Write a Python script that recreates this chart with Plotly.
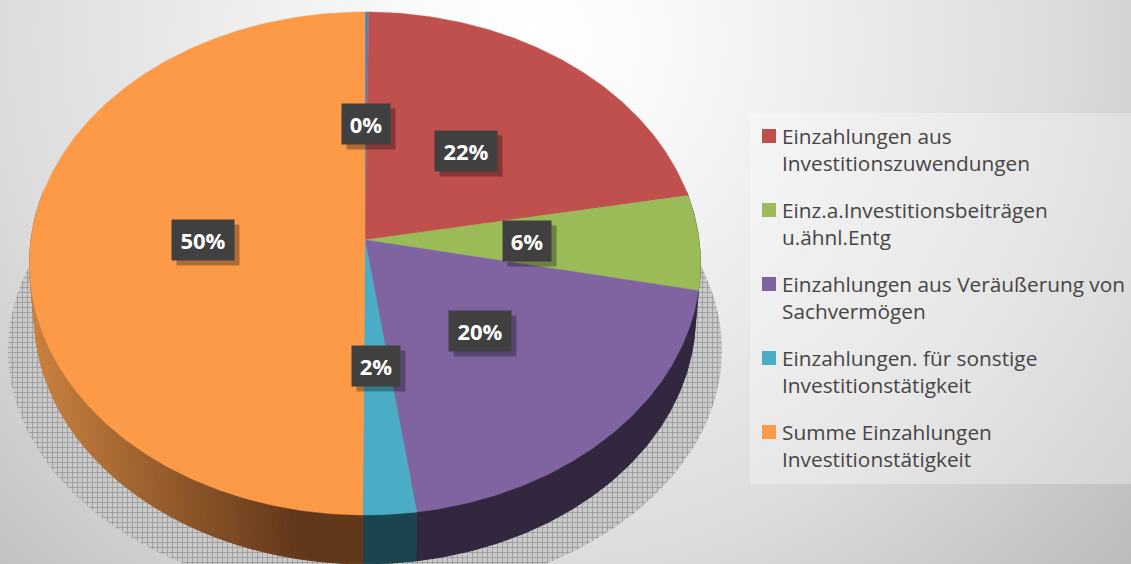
import math
from urllib.parse import quote
import plotly.graph_objects as go

W, H = 1131, 564

# ---- data ----
categories = ["Einzahlungen aus Finanzanlagen", "Einzahlungen aus<br>Investitionszuwendungen",
              "Einz.a.Investitionsbeiträgen<br>u.ähnl.Entg",
              "Einzahlungen aus Veräußerung von<br>Sachvermögen",
              "Einzahlungen. für sonstige<br>Investitionstätigkeit",
              "Summe Einzahlungen<br>Investitionstätigkeit"]
values = [0.2, 21.9, 6.1, 19.56, 2.34, 49.9]
labels = ["0%", "22%", "6%", "20%", "2%", "50%"]
colors = ["#4f81bd", "#c0504d", "#9bbb59", "#8064a2", "#4bacc6", "#fd9a48"]
side_colors = ["#2a4564", "#672b2a", "#556732", "#33273f", "#1c444f", None]
in_legend = [False, True, True, True, True, True]

# ---- pseudo-3D projection ----
CX, CY = 365.0, 240.0
A, B, K = 334.0, 249.3, 0.0934
DEPTH, SHRINK = 53.0, 0.985


def rim(t, r=1.0, lower=False):
    u, v = r * math.sin(t), r * math.cos(t)
    w = 1 + K * v
    s = SHRINK if lower else 1.0
    return CX + s * A * u / w, CY - s * B * v / w + (DEPTH if lower else 0.0)


def arc(a0, a1, lower=False):
    n = max(2, int(abs(a1 - a0) / 0.01))
    return [rim(a0 + (a1 - a0) * i / n, lower=lower) for i in range(n + 1)]


def lerp(c0, c1, f):
    return "rgb(%d,%d,%d)" % tuple(round(p + (q - p) * f) for p, q in zip(c0, c1))


fig = go.Figure()

# drop shadow under the pie
pts = [(CX + 357 * math.cos(i * math.pi / 90), 350 + 248 * math.sin(i * math.pi / 90)) for i in range(181)]
fig.add_trace(go.Scatter(x=[p[0] for p in pts], y=[p[1] for p in pts], mode="lines", fill="toself",
                         line=dict(width=0), fillcolor="#bdbdbd", showlegend=False, hoverinfo="skip",
                         fillpattern=dict(shape="+", size=5, solidity=0.3, fgcolor="#989898", bgcolor="#cacaca",
                                          fillmode="replace")))

total = sum(values)
angles = [0.0]
for v in values:
    angles.append(angles[-1] + v / total * 2 * math.pi)

# side walls (front half only is visible)
for i, v in enumerate(values):
    a0, a1 = angles[i], angles[i + 1]
    lo, hi = max(a0, math.pi / 2 - 0.2), min(a1, 3 * math.pi / 2 + 0.2)
    if hi <= lo:
        continue
    if side_colors[i]:
        steps = [(lo, hi, side_colors[i])]
    else:
        steps = []
        n = 150
        for j in range(n):
            s0 = lo + (hi - lo) * j / n
            s1 = lo + (hi - lo) * (j + 1) / n
            x_mid = rim((s0 + s1) / 2)[0]
            f = min(1.0, max(0.0, (x_mid - 35) / 260))
            steps.append((s0, s1, lerp((200, 128, 62), (99, 56, 26), f)))
    for s0, s1, col in steps:
        top = arc(s0, s1)
        bot = arc(s0, s1, lower=True)
        poly = top + bot[::-1] + [top[0]]
        fig.add_trace(go.Scatter(x=[p[0] for p in poly], y=[p[1] for p in poly], mode="lines", fill="toself",
                                 line=dict(width=1, color=col), fillcolor=col, showlegend=False, hoverinfo="skip"))

# top faces
for i, v in enumerate(values):
    poly = [(CX, CY)] + arc(angles[i], angles[i + 1]) + [(CX, CY)]
    fig.add_trace(go.Scatter(x=[p[0] for p in poly], y=[p[1] for p in poly], mode="lines", fill="toself",
                             line=dict(width=0.5, color=colors[i]), fillcolor=colors[i],
                             showlegend=False, name=categories[i], hoverinfo="name"))

# data labels
annotations = []
for i, txt in enumerate(labels):
    mid = (angles[i] + angles[i + 1]) / 2
    x, y = rim(mid, r=0.485)
    w = 48 if len(txt) == 2 else 62
    annotations.append(dict(x=x + 5, y=y + 5, xref="x", yref="y", text=" ", showarrow=False, width=w, height=40,
                            bgcolor="rgba(0,0,0,0.30)", borderpad=0, font=dict(size=14)))
    annotations.append(dict(x=x, y=y, xref="x", yref="y", text="<b>%s</b>" % txt, showarrow=False, width=w, height=40,
                            bgcolor="#404040", borderpad=0, valign="middle",
                            font=dict(family="Open Sans", size=22, color="#ffffff")))

bg = ("<svg xmlns='http://www.w3.org/2000/svg' width='1131' height='564'>"
      "<defs><radialGradient id='g' gradientUnits='userSpaceOnUse' cx='530' cy='40' r='800'>"
      "<stop offset='0' stop-color='#ffffff'/><stop offset='0.15' stop-color='#fafafa'/>"
      "<stop offset='0.66' stop-color='#dcdcdc'/><stop offset='1' stop-color='#bbbbbb'/>"
      "</radialGradient></defs><rect width='1131' height='564' fill='url(#g)'/></svg>")

# legend panel, swatches and text
shapes = [dict(type="rect", xref="x", yref="y", x0=750, x1=W, y0=113, y1=484,
               fillcolor="rgba(255,255,255,0.30)", line=dict(width=0), layer="below")]
row = 0
for i, name in enumerate(categories):
    if not in_legend[i]:
        continue
    yc = 136 + 74 * row
    shapes.append(dict(type="rect", xref="x", yref="y", x0=762, x1=776, y0=yc - 7, y1=yc + 7,
                       fillcolor=colors[i], line=dict(width=0), layer="above"))
    annotations.append(dict(x=781, y=yc + 13, xref="x", yref="y", xanchor="left", yanchor="middle", align="left",
                            text=name, showarrow=False, borderpad=0,
                            font=dict(family="Open Sans", size=20.8, color="#454545")))
    row += 1

fig.update_layout(
    width=W, height=H, autosize=False,
    margin=dict(l=0, r=0, t=0, b=0),
    paper_bgcolor="#e0e0e0", plot_bgcolor="rgba(0,0,0,0)",
    xaxis=dict(range=[0, W], visible=False, fixedrange=True),
    yaxis=dict(range=[H, 0], visible=False, fixedrange=True),
    images=[dict(source="data:image/svg+xml," + quote(bg), xref="paper", yref="paper", x=0, y=1, sizex=1, sizey=1,
                 sizing="stretch", xanchor="left", yanchor="top", layer="below")],
    shapes=shapes,
    annotations=annotations,
    showlegend=False,
)
fig.write_html("out.html", config=dict(displayModeBar=False),
               post_script="document.body.style.margin='0';document.documentElement.style.overflow='hidden';")
